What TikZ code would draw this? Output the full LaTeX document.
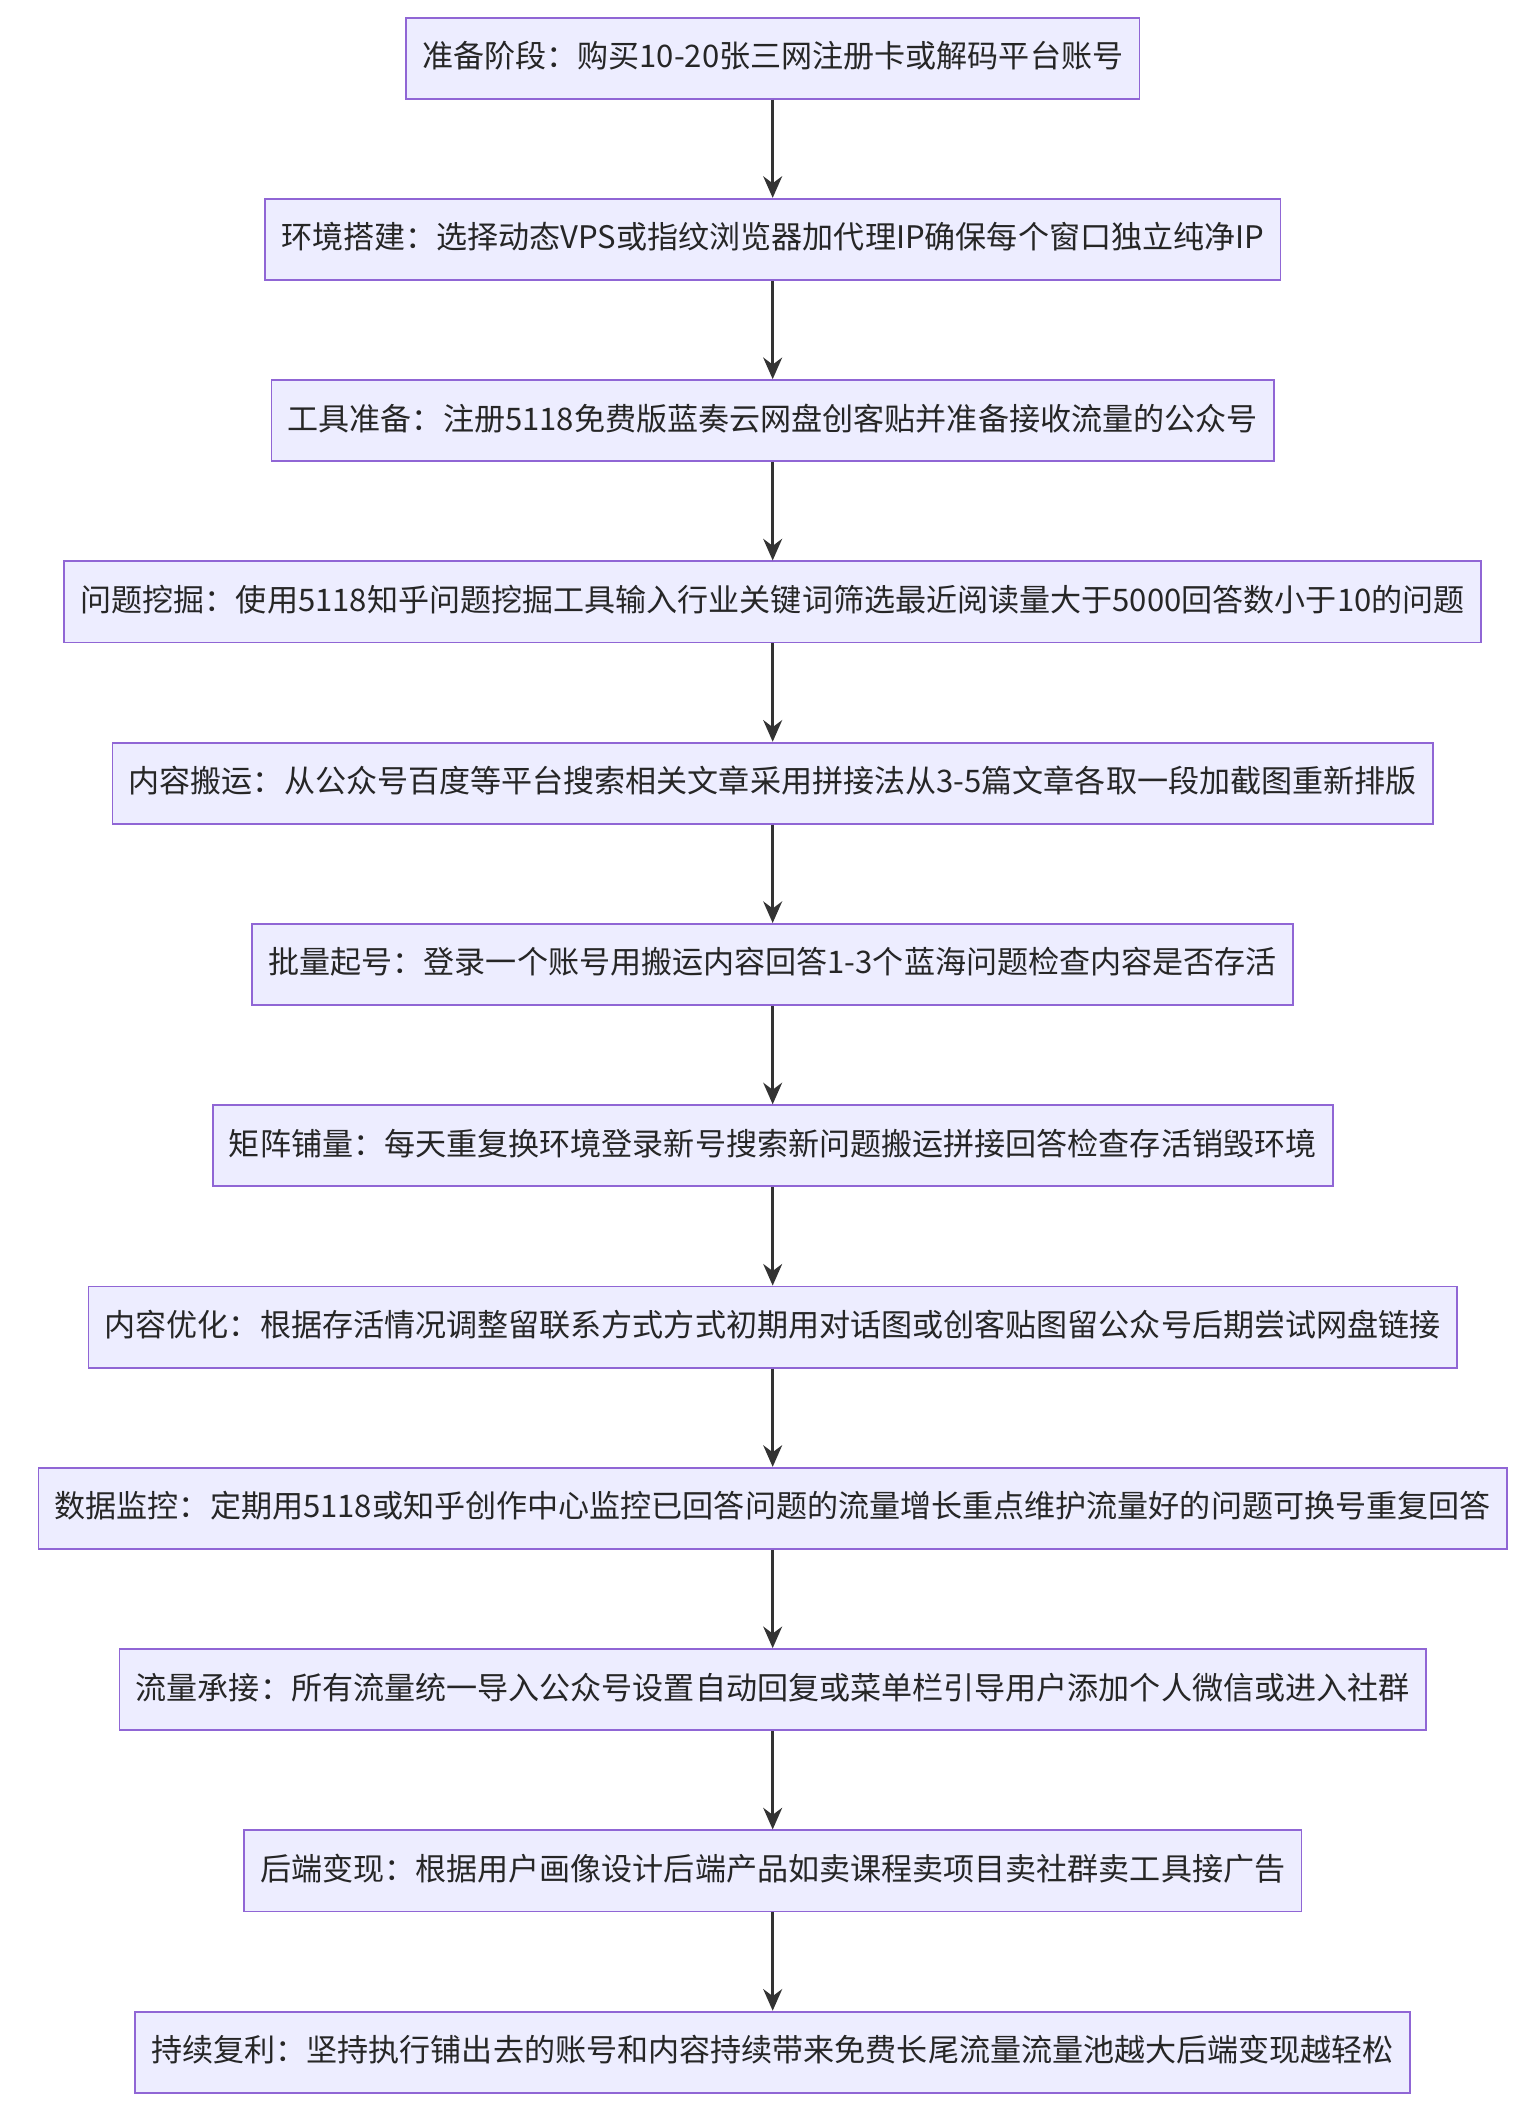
\documentclass[tikz,border=0pt]{standalone}
\usepackage{fontspec}
\setmainfont{Noto Sans CJK SC}
\usetikzlibrary{positioning, arrows.meta}

\begin{document}
\begin{tikzpicture}[
        stepbox/.style={draw=violet!55!blue!60!white, fill=blue!7, line width=0.7pt,
            minimum height=30pt, inner ysep=0pt, inner xsep=6pt, text height=9pt, text depth=2pt,
            font=\fontsize{11.5pt}{13pt}\selectfont, text=black!85},
        flow/.style={-{Stealth[length=8pt,width=7pt]}, line width=1pt, draw=black!80},
        node distance=36.4pt
    ]
        \useasboundingbox (0,0) rectangle (570pt,-781pt);
        \node[stepbox] (s1) at (286pt,-21.5pt) {准备阶段：购买10-20张三网注册卡或解码平台账号};
        \node[stepbox, below=of s1] (s2) {环境搭建：选择动态VPS或指纹浏览器加代理IP确保每个窗口独立纯净IP};
        \node[stepbox, below=of s2] (s3) {工具准备：注册5118免费版蓝奏云网盘创客贴并准备接收流量的公众号};
        \node[stepbox, below=of s3] (s4) {问题挖掘：使用5118知乎问题挖掘工具输入行业关键词筛选最近阅读量大于5000回答数小于10的问题};
        \node[stepbox, below=of s4] (s5) {内容搬运：从公众号百度等平台搜索相关文章采用拼接法从3-5篇文章各取一段加截图重新排版};
        \node[stepbox, below=of s5] (s6) {批量起号：登录一个账号用搬运内容回答1-3个蓝海问题检查内容是否存活};
        \node[stepbox, below=of s6] (s7) {矩阵铺量：每天重复换环境登录新号搜索新问题搬运拼接回答检查存活销毁环境};
        \node[stepbox, below=of s7] (s8) {内容优化：根据存活情况调整留联系方式方式初期用对话图或创客贴图留公众号后期尝试网盘链接};
        \node[stepbox, below=of s8] (s9) {数据监控：定期用5118或知乎创作中心监控已回答问题的流量增长重点维护流量好的问题可换号重复回答};
        \node[stepbox, below=of s9] (s10) {流量承接：所有流量统一导入公众号设置自动回复或菜单栏引导用户添加个人微信或进入社群};
        \node[stepbox, below=of s10] (s11) {后端变现：根据用户画像设计后端产品如卖课程卖项目卖社群卖工具接广告};
        \node[stepbox, below=of s11] (s12) {持续复利：坚持执行铺出去的账号和内容持续带来免费长尾流量流量池越大后端变现越轻松};
        \foreach \a/\b in {s1/s2, s2/s3, s3/s4, s4/s5, s5/s6, s6/s7, s7/s8, s8/s9, s9/s10, s10/s11, s11/s12}
            \draw[flow] (\a) -- (\b);
    \end{tikzpicture}
\end{document}
